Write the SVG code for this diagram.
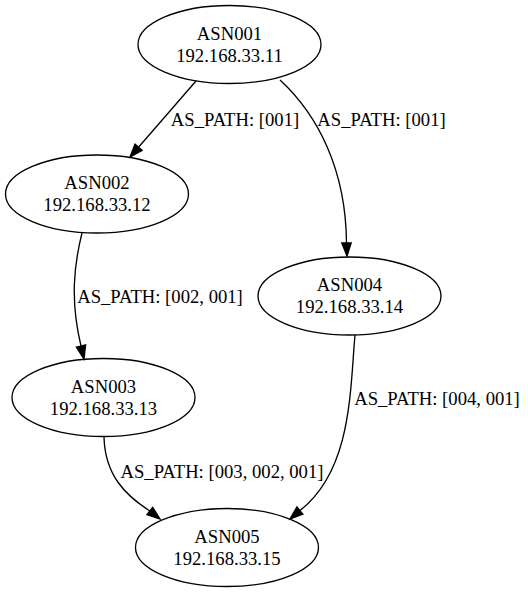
<svg xmlns="http://www.w3.org/2000/svg" width="528" height="592" viewBox="0 0 528 592">
<style>
.node ellipse{fill:none;stroke:#000;stroke-width:1.33}
text{font-family:"Liberation Serif","Times New Roman",serif;font-size:18.67px;fill:#000;text-anchor:middle}
.edge path{fill:none;stroke:#000;stroke-width:1.33}
.edge polygon{fill:#000;stroke:#000;stroke-width:1.33}
</style>
<rect x="0" y="0" width="528" height="592" fill="#fff"/>
<g id="connectors">
<g class="edge" id="e1">
<path d="M196,81 L138.5,147.2"/>
<polygon points="142.1,150.3 130,157 135,144.1"/>
<text x="235" y="126">AS_PATH: [001]</text>
</g>
<g class="edge" id="e2">
<path d="M280,80 C318,115 346,170 346.5,243"/>
<polygon points="341.8,243 347,256 351.2,243"/>
<text x="381.5" y="126">AS_PATH: [001]</text>
</g>
<g class="edge" id="e3">
<path d="M82,233 C74,265 70,300 81,346"/>
<polygon points="85.6,344.9 84,359 76.4,347.1"/>
<text x="160" y="303">AS_PATH: [002, 001]</text>
</g>
<g class="edge" id="e4">
<path d="M104,437 C105,475 125,495 149.8,511"/>
<polygon points="146.9,514.7 160,519 152.7,507.3"/>
<text x="222" y="478">AS_PATH: [003, 002, 001]</text>
</g>
<g class="edge" id="e5">
<path d="M355,335 C350,390 352,470 299.9,510.6"/>
<polygon points="302.9,514.2 290,519 296.9,507"/>
<text x="437" y="405">AS_PATH: [004, 001]</text>
</g>
</g>
<g class="node" id="ASN001">
<ellipse cx="229.5" cy="44.5" rx="91.5" ry="39"/>
<text x="229.5" y="39.5">ASN001</text>
<text x="229.5" y="61.5">192.168.33.11</text>
</g>
<g class="node" id="ASN002">
<ellipse cx="97" cy="194" rx="91.5" ry="39"/>
<text x="97" y="189">ASN002</text>
<text x="97" y="211">192.168.33.12</text>
</g>
<g class="node" id="ASN004">
<ellipse cx="349.5" cy="296" rx="91.5" ry="39"/>
<text x="349.5" y="291">ASN004</text>
<text x="349.5" y="313">192.168.33.14</text>
</g>
<g class="node" id="ASN003">
<ellipse cx="103.5" cy="397.5" rx="91.5" ry="39"/>
<text x="103.5" y="392.5">ASN003</text>
<text x="103.5" y="414.5">192.168.33.13</text>
</g>
<g class="node" id="ASN005">
<ellipse cx="227" cy="547.5" rx="91.5" ry="39"/>
<text x="227" y="542.5">ASN005</text>
<text x="227" y="564.5">192.168.33.15</text>
</g>
</svg>
